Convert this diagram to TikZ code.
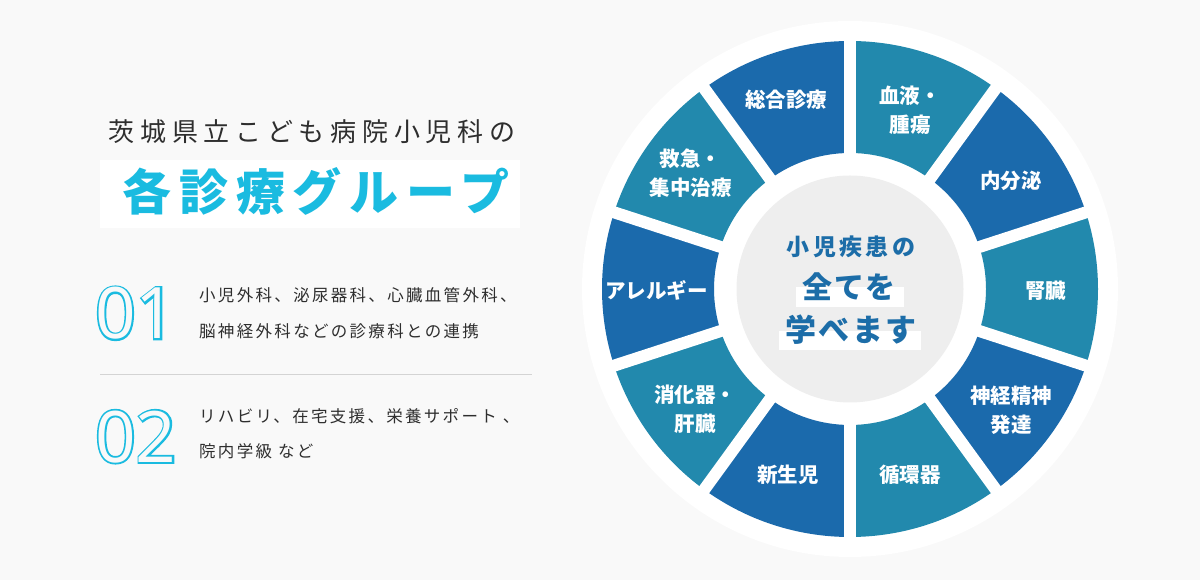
\documentclass[tikz,border=0pt]{standalone}
\usepackage{fontspec}
\setmainfont{Noto Sans CJK JP}
\newfontfamily\numfont{Open Sans}
\newfontfamily\numedge{Open Sans}[FakeBold=5]
\newfontfamily\leadfont{Noto Sans CJK JP}[LetterSpace=22]
\newfontfamily\headfont{Noto Sans CJK JP}[LetterSpace=16]
\newfontfamily\bodyfont{Noto Sans CJK JP}[LetterSpace=14]
\newfontfamily\hubfont{Noto Sans CJK JP}[LetterSpace=15]
\newfontfamily\hubbig{Noto Sans CJK JP}[LetterSpace=7]
\usetikzlibrary{positioning}
\usetikzlibrary{calc}

\definecolor{bg}{HTML}{F9F9F9}
\definecolor{deepblue}{HTML}{1B6AAC}
\definecolor{seablue}{HTML}{2289AD}
\definecolor{skyblue}{HTML}{1ABBE0}
\definecolor{hubgrey}{HTML}{EEEEEE}
\definecolor{inkgrey}{HTML}{2E2E2E}
\definecolor{hubink}{HTML}{1C6DA8}

\newcommand{\edgedigits}[1]{\leavevmode\rlap{\numedge\color{skyblue}#1}{\numfont\color{bg}#1}}

\tikzset{
    cjk/.style={inner sep=0pt, anchor=base},
    seglabel/.style={inner sep=0pt, text=white, align=center, font=\fontsize{20.5}{29}\selectfont\bfseries},
    bodyline/.style={cjk, anchor=base west, text=inkgrey, font=\bodyfont\fontsize{16.5}{20}\selectfont},
    numlabel/.style={inner sep=0pt, anchor=west, font=\fontsize{71}{80}\selectfont},
    gapline/.style={white, line width=12pt},
}

\begin{document}
\begin{tikzpicture}[x=1pt, y=1pt]
    \fill[bg] (0,0) rectangle (1200,580);
    \useasboundingbox (0,0) rectangle (1200,580);

    % left column
    \node[cjk, text=inkgrey, font=\leadfont\fontsize{26}{30}\selectfont] (lead) at (312,438.6) {茨城県立こども病院小児科の};
    \fill[white] (100,352) rectangle (520,420);
    \node[cjk, text=skyblue, font=\headfont\fontsize{49}{52}\selectfont\bfseries] (head) at (316,369.5) {各診療グループ};

    \node[numlabel] (num1) at (95,266.7) {\edgedigits{01}};
    \node[bodyline] (item1a) at (199,278.7) {小児外科、泌尿器科、心臓血管外科、};
    \node[bodyline] (item1b) at (199,242) {脳神経外科などの診療科との連携};
    \draw[black!17] (100,205.7) -- (532,205.7);
    \node[numlabel] (num2) at (95,143.3) {\edgedigits{02}};
    \node[bodyline] (item2a) at (199,157) {リハビリ、在宅支援、栄養サポート 、};
    \node[bodyline] (item2b) at (199,122) {院内学級 など};

    % wheel
    \coordinate (hub) at (850,291);
    \fill[white] (hub) circle[radius=268pt];
    \foreach \a/\col in {90/deepblue,126/seablue,162/deepblue,198/seablue,234/deepblue,
                         270/seablue,306/deepblue,342/seablue,18/deepblue,54/seablue}
        \fill[\col] ($(hub)+(\a:248pt)$) arc[start angle=\a, delta angle=36, radius=248pt]
            -- ($(hub)+(\a+36:136pt)$) arc[start angle=\a+36, delta angle=-36, radius=136pt] -- cycle;
    \foreach \a in {90,126,162,18,54}
        \draw[gapline] ($(hub)+(\a:255pt)$) -- ($(hub)+(\a+180:255pt)$);
    \fill[hubgrey] (hub) circle[radius=113.5pt];

    \node[seglabel] (general) at (786,480) {総合診療};
    \node[seglabel] (blood) at (910,469.5) {血液・\\腫瘍};
    \node[seglabel] (endo) at (1011,399) {内分泌};
    \node[seglabel] (kidney) at (1045.5,289.3) {腎臓};
    \node[seglabel] (neuro) at (1011,170) {神経精神\\発達};
    \node[seglabel] (cardio) at (910,105.5) {循環器};
    \node[seglabel] (neonate) at (788,105.5) {新生児};
    \node[seglabel] (digest) at (695,170.5) {消化器・\\肝臓};
    \node[seglabel] (allergy) at (656.5,289.3) {アレルギー};
    \node[seglabel] (emerg) at (690.5,407) {救急・\\集中治療};

    % centre
    \fill[white] (796,273.3) rectangle (904,293.3);
    \fill[white] (779,230) rectangle (921,249.3);
    \node[cjk, text=hubink, font=\hubfont\fontsize{23}{26}\selectfont\bfseries] (hubtop) at (851,324.6) {小児疾患の};
    \node[cjk, text=hubink, font=\hubbig\fontsize{30}{34}\selectfont\bfseries] (hubmid) at (849,281.9) {全てを};
    \node[cjk, text=hubink, font=\hubbig\fontsize{31}{34}\selectfont\bfseries] (hublow) at (851,238.7) {学べます};
\end{tikzpicture}
\end{document}
